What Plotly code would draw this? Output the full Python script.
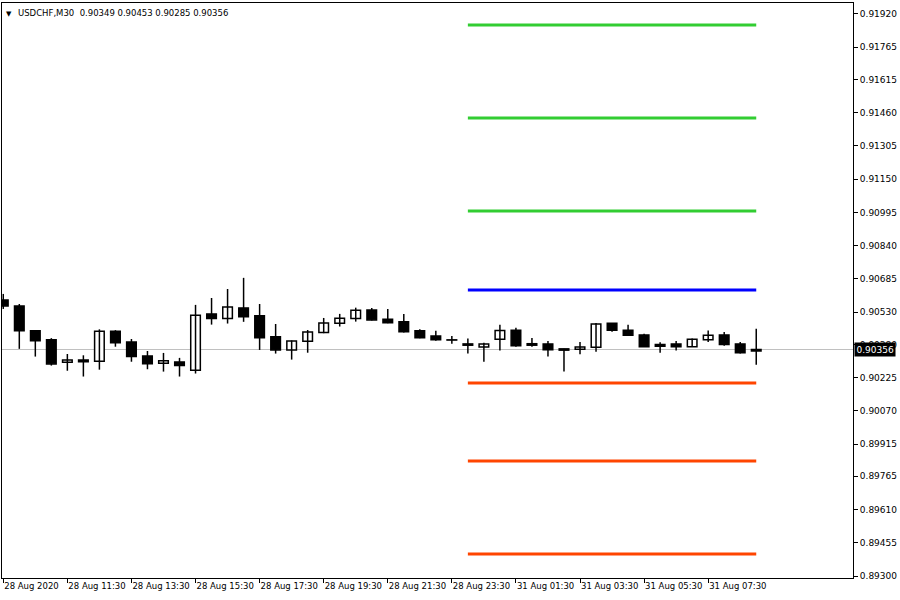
import plotly.graph_objects as go

# ---- data (USDCHF, M30) ----
bar_index = list(range(48))
opens = [0.90587, 0.90559, 0.90443, 0.90401, 0.90297, 0.90307, 0.90301, 0.90441,
         0.90391, 0.90326, 0.90292, 0.90298, 0.90259, 0.90522, 0.90500, 0.90550,
         0.90513, 0.90415, 0.90354, 0.90395, 0.90435, 0.90478, 0.90500, 0.90540,
         0.90497, 0.90485, 0.90443, 0.90419, 0.90401, 0.90382, 0.90368, 0.90404,
         0.90446, 0.90383, 0.90382, 0.90359, 0.90357, 0.90367, 0.90478, 0.90446,
         0.90424, 0.90379, 0.90382, 0.90369, 0.90402, 0.90424, 0.90382, 0.90349]
highs = [0.90615, 0.90568, 0.90445, 0.90409, 0.90335, 0.90329, 0.90450, 0.90446,
         0.90405, 0.90349, 0.90340, 0.90317, 0.90564, 0.90596, 0.90638, 0.90690,
         0.90568, 0.90475, 0.90398, 0.90447, 0.90503, 0.90522, 0.90551, 0.90550,
         0.90545, 0.90522, 0.90450, 0.90443, 0.90419, 0.90407, 0.90388, 0.90471,
         0.90457, 0.90410, 0.90396, 0.90359, 0.90391, 0.90480, 0.90480, 0.90471,
         0.90429, 0.90390, 0.90396, 0.90407, 0.90444, 0.90438, 0.90391, 0.90453]
lows = [0.90545, 0.90359, 0.90323, 0.90281, 0.90257, 0.90230, 0.90262, 0.90369,
        0.90299, 0.90264, 0.90253, 0.90230, 0.90244, 0.90472, 0.90477, 0.90485,
        0.90354, 0.90337, 0.90309, 0.90341, 0.90432, 0.90463, 0.90486, 0.90491,
        0.90478, 0.90435, 0.90409, 0.90397, 0.90383, 0.90337, 0.90299, 0.90351,
        0.90369, 0.90369, 0.90323, 0.90253, 0.90334, 0.90346, 0.90439, 0.90421,
        0.90368, 0.90341, 0.90351, 0.90369, 0.90391, 0.90374, 0.90337, 0.90285]
closes = [0.90559, 0.90443, 0.90397, 0.90289, 0.90307, 0.90299, 0.90441, 0.90388,
          0.90323, 0.90290, 0.90303, 0.90281, 0.90516, 0.90500, 0.90554, 0.90509,
          0.90411, 0.90354, 0.90396, 0.90438, 0.90480, 0.90502, 0.90539, 0.90494,
          0.90481, 0.90439, 0.90411, 0.90402, 0.90400, 0.90376, 0.90382, 0.90444,
          0.90374, 0.90376, 0.90355, 0.90353, 0.90368, 0.90475, 0.90446, 0.90423,
          0.90369, 0.90371, 0.90369, 0.90404, 0.90423, 0.90379, 0.90341, 0.90356]

# pivot levels for the current day (start bar -> last bar)
pivot_start = 29
pivot_end = 47
resistance_levels = [0.91869, 0.91435, 0.91002]
pivot_level = 0.90633
support_levels = [0.90200, 0.89836, 0.89403]

# axis ticks
x_tick_bars = [0, 4, 8, 12, 16, 20, 24, 28, 32, 36, 40, 44]
x_tick_labels = ["28 Aug 2020", "28 Aug 11:30", "28 Aug 13:30", "28 Aug 15:30",
                 "28 Aug 17:30", "28 Aug 19:30", "28 Aug 21:30", "28 Aug 23:30",
                 "31 Aug 01:30", "31 Aug 03:30", "31 Aug 05:30", "31 Aug 07:30"]
y_tick_labels = ["0.89300", "0.89455", "0.89610", "0.89765", "0.89915", "0.90070",
                 "0.90225", "0.90380", "0.90530", "0.90685", "0.90840", "0.90995",
                 "0.91150", "0.91305", "0.91460", "0.91615", "0.91765", "0.91920"]

FONT = "DejaVu Sans"

fig = go.Figure()

# wicks
wx, wy = [], []
for k, lo, hi in zip(bar_index, lows, highs):
    wx += [k, k, None]
    wy += [lo, hi, None]
fig.add_trace(go.Scatter(x=wx, y=wy, mode="lines",
                         line=dict(color="black", width=1.5),
                         hoverinfo="skip", showlegend=False))

# bodies
bases = [min(o, c) for o, c in zip(opens, closes)]
heights = [abs(c - o) for o, c in zip(opens, closes)]
fills = ["white" if c > o else "black" for o, c in zip(opens, closes)]
fig.add_trace(go.Bar(x=bar_index, y=heights, base=bases, width=0.6,
                     marker=dict(color=fills, line=dict(color="black", width=1.5)),
                     showlegend=False))

# pivot lines
for lvl in resistance_levels:
    fig.add_trace(go.Scatter(x=[pivot_start, pivot_end], y=[lvl, lvl], mode="lines",
                             line=dict(color="#32CD32", width=3), showlegend=False))
fig.add_trace(go.Scatter(x=[pivot_start, pivot_end], y=[pivot_level, pivot_level],
                         mode="lines", line=dict(color="#0000FF", width=3),
                         showlegend=False))
for lvl in support_levels:
    fig.add_trace(go.Scatter(x=[pivot_start, pivot_end], y=[lvl, lvl], mode="lines",
                             line=dict(color="#FF4500", width=3), showlegend=False))

last = closes[-1]
# current price line
fig.add_shape(type="line", xref="paper", x0=0, x1=1, yref="y", y0=last, y1=last,
              line=dict(color="#C0C0C0", width=1), layer="below")

# price label
fig.add_annotation(xref="paper", x=1, xanchor="left", xshift=1, y=last, yref="y",
                   text=f"{last:.5f}", showarrow=False, bgcolor="black",
                   font=dict(color="white", size=9, family=FONT), borderpad=1.5)

# header
fig.add_annotation(xref="paper", yref="paper", x=0, y=1, xanchor="left", yanchor="top",
                   xshift=2, yshift=-5, text="▼", showarrow=False,
                   font=dict(size=7, color="black", family=FONT))
header = (f"USDCHF,M30&nbsp;&nbsp;{opens[-1]:.5f} {highs[-1]:.5f} "
          f"{lows[-1]:.5f} {closes[-1]:.5f}")
fig.add_annotation(xref="paper", yref="paper", x=0, y=1, xanchor="left", yanchor="top",
                   xshift=14, yshift=-3, text=header, showarrow=False,
                   font=dict(size=8.5, color="black", family=FONT))

fig.update_layout(
    width=900, height=600,
    margin=dict(l=2, r=47, t=3, b=22, autoexpand=False),
    paper_bgcolor="white", plot_bgcolor="white",
    barmode="overlay",
    font=dict(family=FONT, size=8.5, color="black"),
    xaxis=dict(range=[-0.08, 53.04], showgrid=False, zeroline=False,
               showline=True, linecolor="black", linewidth=1, mirror=True,
               tickmode="array", tickvals=x_tick_bars, ticktext=x_tick_labels,
               ticks="outside", ticklen=4, tickcolor="black", tickwidth=1,
               tickangle=0, automargin=False,
               ticklabelposition="outside right",
               tickfont=dict(family=FONT, size=8.5, color="black")),
    yaxis=dict(range=[0.89291, 0.91971], side="right", showgrid=False, zeroline=False,
               showline=True, linecolor="black", linewidth=1, mirror=True,
               tickmode="array", tickvals=[float(t) for t in y_tick_labels],
               ticktext=y_tick_labels, automargin=False,
               ticks="outside", ticklen=4, tickcolor="black", tickwidth=1,
               tickfont=dict(family=FONT, size=9, color="black")),
)

fig.write_html("out.html",
               config={"displayModeBar": False},
               post_script="document.body.style.margin='0';"
                           "document.body.style.overflow='hidden';")
